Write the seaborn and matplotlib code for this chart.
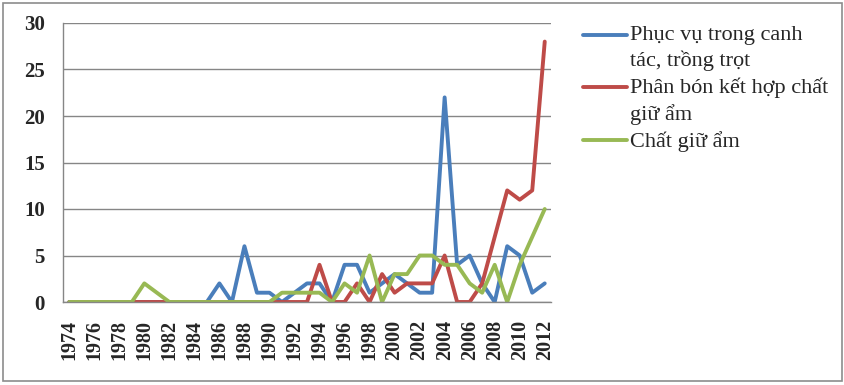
import numpy as np
import pandas as pd
import matplotlib
matplotlib.use("Agg")
import matplotlib.pyplot as plt
import seaborn as sns
from matplotlib.patches import Rectangle

years = list(range(1974, 2013))
series_names = ["Phục vụ trong canh tác, trồng trọt",
                "Phân bón kết hợp chất giữ ẩm",
                "Chất giữ ẩm"]
legend_labels = ["Phục vụ trong canh\ntác, trồng trọt",
                 "Phân bón kết hợp chất\ngiữ ẩm",
                 "Chất giữ ẩm"]
blue_vals = [0, 0, 0, 0, 0, 0, 0, 0, 0, 0, 0, 0, 2, 0, 6, 1, 1, 0, 1, 2,
             2, 0, 4, 4, 1, 2, 3, 2, 1, 1, 22, 4, 5, 2, 0, 6, 5, 1, 2]
red_vals = [0, 0, 0, 0, 0, 0, 0, 0, 0, 0, 0, 0, 0, 0, 0, 0, 0, 0, 0, 0,
            4, 0, 0, 2, 0, 3, 1, 2, 2, 2, 5, 0, 0, 2, 7, 12, 11, 12, 28]
green_vals = [0, 0, 0, 0, 0, 0, 2, 1, 0, 0, 0, 0, 0, 0, 0, 0, 0, 1, 1, 1,
              1, 0, 2, 1, 5, 0, 3, 3, 5, 5, 4, 4, 2, 1, 4, 0, 4, 7, 10]
colors = ["#4A7EBB", "#BE4B48", "#98B954"]

df = pd.DataFrame({
    "year": years * 3,
    "value": blue_vals + red_vals + green_vals,
    "series": [series_names[0]] * len(years) + [series_names[1]] * len(years)
              + [series_names[2]] * len(years),
})

sns.set_style("white")
serif = ["Liberation Serif", "DejaVu Serif"]
plt.rcParams["font.family"] = serif

fig = plt.figure(figsize=(8.45, 3.85), dpi=100)
ax = fig.add_axes([63 / 845, 83 / 385, (551 - 63) / 845, (302 - 23) / 385])

sns.lineplot(data=df, x="year", y="value", hue="series",
             hue_order=series_names, palette=colors, linewidth=2.8,
             legend=False, ax=ax)
for ln in ax.lines:
    ln.set_solid_joinstyle("round")
    ln.set_solid_capstyle("round")

grid_c = "#868686"
ax.set_xlim(years[0] - 0.5, years[-1] + 0.5)
ax.set_ylim(0, 30)
ax.set_yticks(range(0, 31, 5))
ax.yaxis.grid(True, color=grid_c, linewidth=1.0)
ax.set_axisbelow(True)
ax.set_xticks(years[::2])
ax.set_xticklabels([str(y) for y in years[::2]], rotation=90,
                   fontweight="bold", fontsize=14.5)
ax.set_xticks(np.arange(years[0] - 0.5, years[-1] + 1.0, 1.0), minor=True)
ax.tick_params(axis="x", which="major", length=0, pad=13)
ax.tick_params(axis="x", which="minor", length=4, color=grid_c, width=1)
ax.tick_params(axis="y", length=4, color=grid_c, width=1, pad=9, labelsize=15)
for lab in ax.get_yticklabels():
    lab.set_fontweight("bold")
ax.set_xlabel("")
ax.set_ylabel("")
for s in ["top", "right"]:
    ax.spines[s].set_visible(False)
for s in ["left", "bottom"]:
    ax.spines[s].set_color(grid_c)
    ax.spines[s].set_linewidth(1.0)

leg = fig.legend(handles=ax.lines[:3], labels=legend_labels,
                 loc="upper left", bbox_to_anchor=(583 / 845, 1 - 26 / 385),
                 frameon=False, fontsize=16, handlelength=2.0,
                 handleheight=1.1, handletextpad=0.1, labelspacing=0.3,
                 borderpad=0, borderaxespad=0)
for t in leg.get_texts():
    t.set_linespacing(1.35)
try:
    for col in leg._legend_handle_box.get_children():
        for entry in col.get_children():
            entry.align = "top"
except Exception:
    pass

fig.patches.append(Rectangle((3 / 845, 4 / 385), 839 / 845, 378 / 385,
                             transform=fig.transFigure, fill=False,
                             edgecolor="#8c8c8c", linewidth=1.2))

fig.savefig("out.png", dpi=100)
